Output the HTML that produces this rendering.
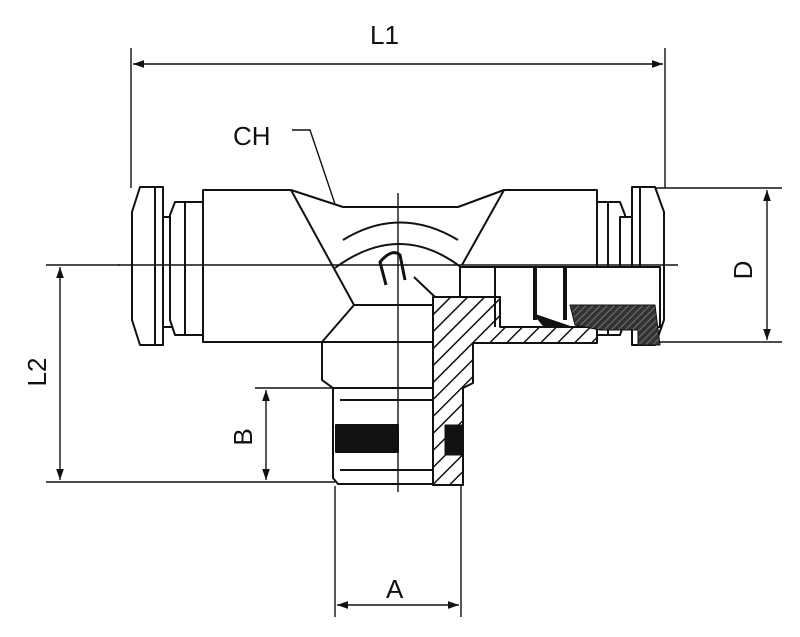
<!DOCTYPE html>
<html><head><meta charset="utf-8"><style>
html,body{margin:0;padding:0;background:#fff;}
svg{display:block;}
text{font-family:"Liberation Sans",sans-serif;font-size:26px;fill:#111;}
</style></head><body>
<svg width="800" height="637" viewBox="0 0 800 637" xmlns="http://www.w3.org/2000/svg">
<defs>
<marker id="ar" viewBox="0 0 10 10" refX="10" refY="5" markerWidth="8" markerHeight="8" orient="auto-start-reverse"><path d="M0,1.5 L10,5 L0,8.5 z" fill="#111"/></marker>
<pattern id="h" patternUnits="userSpaceOnUse" width="12" height="12" patternTransform="rotate(45)"><rect width="12" height="12" fill="#fff"/><line x1="0" y1="0" x2="0" y2="12" stroke="#111" stroke-width="3"/></pattern>
<pattern id="hd" patternUnits="userSpaceOnUse" width="5" height="5" patternTransform="rotate(45)"><rect width="5" height="5" fill="#333"/><line x1="0" y1="0" x2="0" y2="5" stroke="#888" stroke-width="1.5"/></pattern>
</defs>
<g stroke="#111" fill="none" stroke-width="1.4">
<line x1="131" y1="48" x2="131" y2="188"/><line x1="665" y1="48" x2="665" y2="188"/>
<line x1="133" y1="64" x2="663" y2="64" marker-start="url(#ar)" marker-end="url(#ar)"/>
<line x1="655" y1="188" x2="782" y2="188"/><line x1="655" y1="342" x2="782" y2="342"/>
<line x1="767" y1="190" x2="767" y2="340" marker-start="url(#ar)" marker-end="url(#ar)"/>
<line x1="46" y1="265" x2="120" y2="265"/><line x1="46" y1="482" x2="335" y2="482"/>
<line x1="60" y1="267" x2="60" y2="480" marker-start="url(#ar)" marker-end="url(#ar)"/>
<line x1="255" y1="388" x2="333" y2="388"/>
<line x1="266" y1="390" x2="266" y2="480" marker-start="url(#ar)" marker-end="url(#ar)"/>
<line x1="335" y1="486" x2="335" y2="617"/><line x1="461" y1="486" x2="461" y2="617"/>
<line x1="337" y1="605" x2="459" y2="605" marker-start="url(#ar)" marker-end="url(#ar)"/>
<polyline points="292,130 310,130 360,278"/>
</g>
<circle cx="360" cy="280" r="3" fill="#111"/>
<text x="370" y="44">L1</text>
<text x="233" y="145">CH</text>
<text x="386" y="598">A</text>
<text transform="translate(752,270) rotate(-90)" text-anchor="middle">D</text>
<text transform="translate(46,372) rotate(-90)" text-anchor="middle">L2</text>
<text transform="translate(252,437) rotate(-90)" text-anchor="middle">B</text>

<g stroke="#111" fill="#fff" stroke-width="2" stroke-linejoin="round">
<polygon points="322,342 322,380 333,388 433,388 433,342"/>
<polygon points="333,388 463,388 463,478 458,484 338,484 333,478"/>
<line x1="340" y1="400" x2="433" y2="400"/>
<rect x="336" y="425" width="62" height="27" fill="#111"/>
<line x1="340" y1="470" x2="433" y2="470"/>
<polygon points="140,187 163,187 163,345 140,345 132,320 132,212"/>
<line x1="155" y1="187" x2="155" y2="345"/>
<rect x="163" y="217" width="12" height="110"/>
<polygon points="175,202 203,202 203,335 175,335 170,320 170,215"/>
<line x1="185" y1="202" x2="185" y2="335"/>
<polygon points="203,190 291,190 343,207 458,207 504,190 597,190 597,342 473,342 473,305 354,305 322,342 203,342"/>
<line x1="291" y1="190" x2="354" y2="305"/>
<line x1="504" y1="190" x2="462" y2="265"/>
<path d="M335,268 Q400,220 462,268" fill="none"/>
<path d="M343,240 Q400,205 458,240" fill="none"/>
<polygon points="597,202 620,202 625,215 625,320 620,335 597,335"/>
<line x1="608" y1="202" x2="608" y2="335"/>
<rect x="620" y="217" width="12" height="110"/>
<polygon points="632,187 655,187 664,212 664,320 655,345 632,345"/>
<line x1="640" y1="187" x2="640" y2="345"/>
<rect x="460" y="267" width="200" height="60"/>
<polygon points="433,297 500,297 500,327 597,327 597,343 473,343 473,383 463,388 463,485 433,485" fill="url(#h)"/>
<polygon points="570,305 655,305 660,345 638,345 638,330 600,330 575,325" fill="url(#hd)" stroke-width="1"/>
<line x1="495" y1="267" x2="495" y2="327"/>
<line x1="535" y1="267" x2="535" y2="320" stroke-width="4"/>
<line x1="565" y1="267" x2="565" y2="320" stroke-width="4"/>
<path d="M535,315 L545,327 L570,327 Z" fill="#111"/>
<rect x="445" y="425" width="18" height="30" fill="#111" stroke-width="1"/>
<path d="M386,285 L380,262 Q392,248 400,255 L405,280" fill="none" stroke-width="3"/>
<line x1="414" y1="277" x2="435" y2="297"/>
</g>
<g stroke="#111" stroke-width="1.4">
<line x1="118" y1="265" x2="678" y2="265"/>
<line x1="398" y1="193" x2="398" y2="492"/>
</g>
</svg>
</body></html>
